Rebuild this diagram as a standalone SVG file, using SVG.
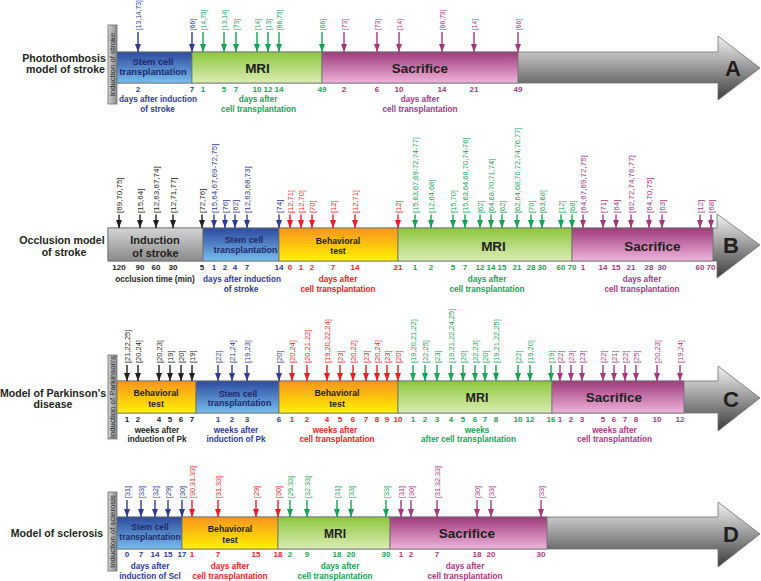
<svg xmlns="http://www.w3.org/2000/svg" width="761" height="581" viewBox="0 0 761 581">
<defs>
<style>
text{font-family:"Liberation Sans",Arial,Helvetica,sans-serif}
.t{font-weight:bold;text-anchor:middle;fill:#231f20}
.st{font-weight:bold;text-anchor:middle;fill:#1f2a6e}
.num{font-size:8px;font-weight:bold;text-anchor:middle}
.sub{font-size:8.2px;font-weight:bold;text-anchor:middle}
.ttl{font-size:10.6px;font-weight:bold;text-anchor:middle;fill:#231f20}
.let{font-size:22px;font-weight:bold;text-anchor:middle;fill:#231f20}
.vt{font-size:7.8px;text-anchor:middle;fill:#2b2b2b}
.k{fill:#231f20}.b{fill:#2e3a93}.r{fill:#ed1c24}.g{fill:#17a255}.p{fill:#a4387f}
.bar{stroke:#6d6e71;stroke-width:0.8}
.ak line,.ab line,.ar line,.ag line,.ap line{stroke-width:1.4;fill:none}
.ak line{stroke:#231f20;marker-end:url(#mk)}
.ab line{stroke:#2e3a93;marker-end:url(#mb)}
.ar line{stroke:#ed1c24;marker-end:url(#mr)}
.ag line{stroke:#17a255;marker-end:url(#mg)}
.ap line{stroke:#a4387f;marker-end:url(#mp)}
</style>
<linearGradient id="gArrow" x1="0" y1="0" x2="0" y2="1"><stop offset="0" stop-color="#f2f2f2"/><stop offset="1" stop-color="#3c3c3c"/></linearGradient>
<linearGradient id="gGray" x1="0" y1="0" x2="0" y2="1"><stop offset="0" stop-color="#d4d4d4"/><stop offset="1" stop-color="#8a8a8a"/></linearGradient>
<linearGradient id="gVert" x1="0" y1="0" x2="1" y2="0"><stop offset="0" stop-color="#d0d0d0"/><stop offset="1" stop-color="#8c8c8c"/></linearGradient>
<linearGradient id="gBlue" x1="0" y1="0" x2="0" y2="1"><stop offset="0" stop-color="#2d4a9e"/><stop offset="1" stop-color="#78bdee"/></linearGradient>
<linearGradient id="gGreen" x1="0" y1="0" x2="0" y2="1"><stop offset="0" stop-color="#8dc63f"/><stop offset="1" stop-color="#dbedb3"/></linearGradient>
<linearGradient id="gOrange" x1="0" y1="0" x2="0" y2="1"><stop offset="0" stop-color="#f7941d"/><stop offset="1" stop-color="#fff200"/></linearGradient>
<linearGradient id="gPink" x1="0" y1="0" x2="0" y2="1"><stop offset="0" stop-color="#9e3b7b"/><stop offset="1" stop-color="#efb3da"/></linearGradient>
<marker id="mk" markerUnits="userSpaceOnUse" markerWidth="8" markerHeight="6" refX="8" refY="3" orient="auto"><path d="M0,0 L8,3 L0,6 Z" fill="#231f20"/></marker>
<marker id="mb" markerUnits="userSpaceOnUse" markerWidth="8" markerHeight="6" refX="8" refY="3" orient="auto"><path d="M0,0 L8,3 L0,6 Z" fill="#2e3a93"/></marker>
<marker id="mr" markerUnits="userSpaceOnUse" markerWidth="8" markerHeight="6" refX="8" refY="3" orient="auto"><path d="M0,0 L8,3 L0,6 Z" fill="#ed1c24"/></marker>
<marker id="mg" markerUnits="userSpaceOnUse" markerWidth="8" markerHeight="6" refX="8" refY="3" orient="auto"><path d="M0,0 L8,3 L0,6 Z" fill="#17a255"/></marker>
<marker id="mp" markerUnits="userSpaceOnUse" markerWidth="8" markerHeight="6" refX="8" refY="3" orient="auto"><path d="M0,0 L8,3 L0,6 Z" fill="#a4387f"/></marker>
</defs>
<rect width="761" height="581" fill="#ffffff"/>

<!-- ROW A -->
<g id="rowA">
<text class="ttl" x="64" y="61.5">Photothombosis</text>
<text class="ttl" x="65.5" y="73">model of stroke</text>
<g id="A-arrow"><path class="bar" d="M117,52 H718 V36 L760,68 L718,100 V83 H117 Z" fill="url(#gArrow)"/><text class="let" x="733" y="76">A</text></g>
<g id="A-induction"><rect class="bar" x="108" y="25" width="9" height="79" fill="url(#gVert)"/><text class="vt" transform="translate(115.3,64.5) rotate(-90)">Induction of stroke</text></g>
<g id="A-stem"><rect class="bar" x="117" y="52" width="75" height="31" fill="url(#gBlue)"/><text class="st" x="153" y="65" font-size="9.3">Stem cell</text><text class="st" x="153" y="74.5" font-size="9.3">transplantation</text></g>
<g id="A-mri"><rect class="bar" x="192" y="52" width="130" height="31" fill="url(#gGreen)"/><text class="t" x="257.5" y="73" font-size="13.5">MRI</text></g>
<g id="A-sacrifice"><rect class="bar" x="322" y="52" width="196" height="31" fill="url(#gPink)"/><text class="t" x="420" y="73" font-size="13.5">Sacrifice</text></g>
</g>

<!-- ROW B -->
<g id="rowB">
<text class="ttl" x="62" y="243.5" font-size="10.8">Occlusion model</text>
<text class="ttl" x="64" y="255.5" font-size="10.8">of stroke</text>
<g id="B-arrow"><path class="bar" d="M108,228 H717 V214 L760,245 L717,278 V261 H108 Z" fill="url(#gArrow)"/><text class="let" x="731" y="253">B</text></g>
<g id="B-induction"><rect class="bar" x="108" y="228" width="95" height="33" fill="url(#gGray)"/><text class="t" x="155" y="243.5" font-size="11">Induction</text><text class="t" x="155.5" y="256.5" font-size="11">of stroke</text></g>
<g id="B-stem"><rect class="bar" x="203" y="228" width="76" height="33" fill="url(#gBlue)"/><text class="st" x="244" y="243" font-size="8.8">Stem cell</text><text class="st" x="245.5" y="252.5" font-size="8.8">transplantation</text></g>
<g id="B-behavioral"><rect class="bar" x="279" y="228" width="119" height="33" fill="url(#gOrange)"/><text class="t" x="338" y="243.5" font-size="8.7">Behavioral</text><text class="t" x="338" y="254" font-size="8.7">test</text></g>
<g id="B-mri"><rect class="bar" x="398" y="228" width="174" height="33" fill="url(#gGreen)"/><text class="t" x="493.5" y="250.5" font-size="13.5">MRI</text></g>
<g id="B-sacrifice"><rect class="bar" x="572" y="228" width="141" height="33" fill="url(#gPink)"/><text class="t" x="652.5" y="251" font-size="13.5">Sacrifice</text></g>
</g>

<!-- ROW C -->
<g id="rowC">
<text class="ttl" x="53" y="397">Model of Parkinson's</text>
<text class="ttl" x="53" y="407.5">disease</text>
<g id="C-arrow"><path class="bar" d="M117,381 H718 V366 L760,398 L718,431 V413 H117 Z" fill="url(#gArrow)"/><text class="let" x="731" y="407">C</text></g>
<g id="C-induction"><rect class="bar" x="108" y="355" width="9" height="84" fill="url(#gVert)"/><text class="vt" transform="translate(115.3,397) rotate(-90)">Induction of Parkinson's</text></g>
<g id="C-behavioral1"><rect class="bar" x="117" y="381" width="79" height="32" fill="url(#gOrange)"/><text class="t" x="156" y="396" font-size="8.8">Behavioral</text><text class="t" x="156" y="406.5" font-size="8.8">test</text></g>
<g id="C-stem"><rect class="bar" x="196" y="381" width="83" height="32" fill="url(#gBlue)"/><text class="st" x="238" y="396.5" font-size="8.8">Stem cell</text><text class="st" x="239.5" y="406" font-size="8.8">transplantation</text></g>
<g id="C-behavioral2"><rect class="bar" x="279" y="381" width="119" height="32" fill="url(#gOrange)"/><text class="t" x="337" y="396" font-size="8.8">Behavioral</text><text class="t" x="337" y="406.5" font-size="8.8">test</text></g>
<g id="C-mri"><rect class="bar" x="398" y="381" width="154" height="32" fill="url(#gGreen)"/><text class="t" x="477" y="402" font-size="12.5">MRI</text></g>
<g id="C-sacrifice"><rect class="bar" x="552" y="381" width="132" height="32" fill="url(#gPink)"/><text class="t" x="614" y="402" font-size="13.5">Sacrifice</text></g>
</g>

<!-- ROW D -->
<g id="rowD">
<text class="ttl" x="57" y="537">Model of sclerosis</text>
<g id="D-arrow"><path class="bar" d="M117,517 H718 V502 L760,534 L718,567 V549 H117 Z" fill="url(#gArrow)"/><text class="let" x="731" y="542">D</text></g>
<g id="D-induction"><rect class="bar" x="108" y="492" width="9" height="79" fill="url(#gVert)"/><text class="vt" transform="translate(115.3,531.5) rotate(-90)">Induction of sclerosis</text></g>
<g id="D-stem"><rect class="bar" x="117" y="517" width="65" height="32" fill="url(#gBlue)"/><text class="st" x="150" y="530" font-size="8.5">Stem cell</text><text class="st" x="150" y="540" font-size="8.5">transplantation</text></g>
<g id="D-behavioral"><rect class="bar" x="182" y="517" width="96" height="32" fill="url(#gOrange)"/><text class="t" x="230" y="531.5" font-size="8.7">Behavioral</text><text class="t" x="230" y="542.5" font-size="8.7">test</text></g>
<g id="D-mri"><rect class="bar" x="278" y="517" width="112" height="32" fill="url(#gGreen)"/><text class="t" x="335" y="538" font-size="12">MRI</text></g>
<g id="D-sacrifice"><rect class="bar" x="390" y="517" width="157" height="32" fill="url(#gPink)"/><text class="t" x="467" y="538" font-size="13.5">Sacrifice</text></g>
</g>

<!-- CONNECTORS -->
<g id="connectors">
<g class="ab"><line x1="138" y1="32" x2="138" y2="52"/><line x1="192" y1="32" x2="192" y2="52"/></g>
<g class="ag"><line x1="203" y1="32" x2="203" y2="52"/><line x1="224" y1="32" x2="224" y2="52"/><line x1="236" y1="32" x2="236" y2="52"/><line x1="257" y1="32" x2="257" y2="52"/><line x1="268" y1="32" x2="268" y2="52"/><line x1="279" y1="32" x2="279" y2="52"/><line x1="322" y1="32" x2="322" y2="52"/></g>
<g class="ap"><line x1="344" y1="32" x2="344" y2="52"/><line x1="377" y1="32" x2="377" y2="52"/><line x1="399" y1="32" x2="399" y2="52"/><line x1="442" y1="32" x2="442" y2="52"/><line x1="474" y1="32" x2="474" y2="52"/><line x1="518" y1="32" x2="518" y2="52"/></g>

<g class="ak"><line x1="119" y1="214.5" x2="119" y2="228"/><line x1="140" y1="214.5" x2="140" y2="228"/><line x1="156" y1="214.5" x2="156" y2="228"/><line x1="173" y1="214.5" x2="173" y2="228"/><line x1="202" y1="214.5" x2="202" y2="228"/></g>
<g class="ab"><line x1="214" y1="214.5" x2="214" y2="228"/><line x1="225" y1="214.5" x2="225" y2="228"/><line x1="235" y1="214.5" x2="235" y2="228"/><line x1="247" y1="214.5" x2="247" y2="228"/><line x1="279" y1="214.5" x2="279" y2="228"/></g>
<g class="ar"><line x1="290" y1="214.5" x2="290" y2="228"/><line x1="301" y1="214.5" x2="301" y2="228"/><line x1="312" y1="214.5" x2="312" y2="228"/><line x1="333" y1="214.5" x2="333" y2="228"/><line x1="355" y1="214.5" x2="355" y2="228"/><line x1="398" y1="214.5" x2="398" y2="228"/></g>
<g class="ag"><line x1="415" y1="214.5" x2="415" y2="228"/><line x1="431" y1="214.5" x2="431" y2="228"/><line x1="453" y1="214.5" x2="453" y2="228"/><line x1="465" y1="214.5" x2="465" y2="228"/><line x1="480" y1="214.5" x2="480" y2="228"/><line x1="491" y1="214.5" x2="491" y2="228"/><line x1="502" y1="214.5" x2="502" y2="228"/><line x1="517" y1="214.5" x2="517" y2="228"/><line x1="531" y1="214.5" x2="531" y2="228"/><line x1="542" y1="214.5" x2="542" y2="228"/><line x1="561" y1="214.5" x2="561" y2="228"/><line x1="572" y1="214.5" x2="572" y2="228"/></g>
<g class="ap"><line x1="583" y1="214.5" x2="583" y2="228"/><line x1="603" y1="214.5" x2="603" y2="228"/><line x1="616" y1="214.5" x2="616" y2="228"/><line x1="631" y1="214.5" x2="631" y2="228"/><line x1="649" y1="214.5" x2="649" y2="228"/><line x1="662" y1="214.5" x2="662" y2="228"/><line x1="700" y1="214.5" x2="700" y2="228"/><line x1="711" y1="214.5" x2="711" y2="228"/></g>

<g class="ak"><line x1="127" y1="365" x2="127" y2="381"/><line x1="138" y1="365" x2="138" y2="381"/><line x1="159" y1="365" x2="159" y2="381"/><line x1="170" y1="365" x2="170" y2="381"/><line x1="181" y1="365" x2="181" y2="381"/><line x1="192" y1="365" x2="192" y2="381"/></g>
<g class="ab"><line x1="218" y1="365" x2="218" y2="381"/><line x1="232" y1="365" x2="232" y2="381"/><line x1="247" y1="365" x2="247" y2="381"/><line x1="279" y1="365" x2="279" y2="381"/></g>
<g class="ar"><line x1="292" y1="365" x2="292" y2="381"/><line x1="307" y1="365" x2="307" y2="381"/><line x1="327" y1="365" x2="327" y2="381"/><line x1="340" y1="365" x2="340" y2="381"/><line x1="353" y1="365" x2="353" y2="381"/><line x1="366" y1="365" x2="366" y2="381"/><line x1="377" y1="365" x2="377" y2="381"/><line x1="387" y1="365" x2="387" y2="381"/><line x1="398" y1="365" x2="398" y2="381"/></g>
<g class="ag"><line x1="413" y1="365" x2="413" y2="381"/><line x1="425" y1="365" x2="425" y2="381"/><line x1="437" y1="365" x2="437" y2="381"/><line x1="451" y1="365" x2="451" y2="381"/><line x1="463" y1="365" x2="463" y2="381"/><line x1="475" y1="365" x2="475" y2="381"/><line x1="485" y1="365" x2="485" y2="381"/><line x1="496" y1="365" x2="496" y2="381"/><line x1="518" y1="365" x2="518" y2="381"/><line x1="530" y1="365" x2="530" y2="381"/><line x1="551" y1="365" x2="551" y2="381"/></g>
<g class="ap"><line x1="560" y1="365" x2="560" y2="381"/><line x1="571" y1="365" x2="571" y2="381"/><line x1="582" y1="365" x2="582" y2="381"/><line x1="603" y1="365" x2="603" y2="381"/><line x1="614" y1="365" x2="614" y2="381"/><line x1="625" y1="365" x2="625" y2="381"/><line x1="636" y1="365" x2="636" y2="381"/><line x1="657" y1="365" x2="657" y2="381"/><line x1="680" y1="365" x2="680" y2="381"/></g>

<g class="ab"><line x1="127" y1="500" x2="127" y2="517"/><line x1="141" y1="500" x2="141" y2="517"/><line x1="155" y1="500" x2="155" y2="517"/><line x1="168" y1="500" x2="168" y2="517"/><line x1="182" y1="500" x2="182" y2="517"/></g>
<g class="ar"><line x1="192" y1="500" x2="192" y2="517"/><line x1="218" y1="500" x2="218" y2="517"/><line x1="256" y1="500" x2="256" y2="517"/><line x1="278" y1="500" x2="278" y2="517"/></g>
<g class="ag"><line x1="290" y1="500" x2="290" y2="517"/><line x1="307" y1="500" x2="307" y2="517"/><line x1="337" y1="500" x2="337" y2="517"/><line x1="351" y1="500" x2="351" y2="517"/><line x1="386" y1="500" x2="386" y2="517"/></g>
<g class="ap"><line x1="401" y1="500" x2="401" y2="517"/><line x1="411" y1="500" x2="411" y2="517"/><line x1="437" y1="500" x2="437" y2="517"/><line x1="477" y1="500" x2="477" y2="517"/><line x1="491" y1="500" x2="491" y2="517"/><line x1="541" y1="500" x2="541" y2="517"/></g>
</g>

<!-- REFERENCE LABELS -->
<g id="refs">
<g font-size="6.7">
<g class="b"><text transform="translate(140.6,30) rotate(-90)">[13,14,73]</text><text transform="translate(194.6,30) rotate(-90)">[66]</text></g>
<g class="g"><text transform="translate(205.6,30) rotate(-90)">[14,73]</text><text transform="translate(226.6,30) rotate(-90)">[13,14]</text><text transform="translate(238.6,30) rotate(-90)">[73]</text><text transform="translate(259.6,30) rotate(-90)">[14]</text><text transform="translate(270.6,30) rotate(-90)">[13]</text><text transform="translate(281.6,30) rotate(-90)">[66,73]</text><text transform="translate(324.6,30) rotate(-90)">[66]</text></g>
<g class="p"><text transform="translate(346.6,30) rotate(-90)">[73]</text><text transform="translate(379.6,30) rotate(-90)">[73]</text><text transform="translate(401.6,30) rotate(-90)">[14]</text><text transform="translate(444.6,30) rotate(-90)">[66,73]</text><text transform="translate(476.6,30) rotate(-90)">[14]</text><text transform="translate(520.6,30) rotate(-90)">[66]</text></g>
</g>
<g font-size="8">
<g class="k"><text transform="translate(121.9,213) rotate(-90)">[69,70,75]</text><text transform="translate(142.9,213) rotate(-90)">[15,64]</text><text transform="translate(158.9,213) rotate(-90)">[12,63,67,74]</text><text transform="translate(175.9,213) rotate(-90)">[12,71,77]</text><text transform="translate(204.9,213) rotate(-90)">[72,76]</text></g>
<g class="b"><text transform="translate(216.9,213) rotate(-90)">[15,64,67,69-72,75]</text><text transform="translate(227.9,213) rotate(-90)">[76]</text><text transform="translate(237.9,213) rotate(-90)">[62]</text><text transform="translate(249.9,213) rotate(-90)">[12,63,68,73]</text><text transform="translate(281.9,213) rotate(-90)">[74]</text></g>
<g class="r" font-size="7.5"><text transform="translate(292.7,213) rotate(-90)">[12,71]</text><text transform="translate(303.7,213) rotate(-90)">[12,70]</text><text transform="translate(314.7,213) rotate(-90)">[70]</text><text transform="translate(335.7,213) rotate(-90)">[12]</text><text transform="translate(357.7,213) rotate(-90)">[12,71]</text><text transform="translate(400.7,213) rotate(-90)">[12]</text></g>
<g class="g" font-size="7.5"><text transform="translate(417.7,213) rotate(-90)">[15,63,67,69-72,74-77]</text><text transform="translate(433.7,213) rotate(-90)">[12,64,68]</text><text transform="translate(455.7,213) rotate(-90)">[15,70]</text><text transform="translate(467.7,213) rotate(-90)">[15,63,64,68,70,74-76]</text><text transform="translate(482.7,213) rotate(-90)">[62]</text><text transform="translate(493.7,213) rotate(-90)">[64,68,70,71,74]</text><text transform="translate(504.7,213) rotate(-90)">[62]</text><text transform="translate(519.7,213) rotate(-90)">[62,64,68,70,72,74,76,77]</text><text transform="translate(533.7,213) rotate(-90)">[70]</text><text transform="translate(544.7,213) rotate(-90)">[63,68]</text><text transform="translate(563.7,213) rotate(-90)">[12]</text><text transform="translate(574.7,213) rotate(-90)">[68]</text></g>
<g class="p"><text transform="translate(585.9,213) rotate(-90)">[64,67,69,72,75]</text><text transform="translate(605.9,213) rotate(-90)">[71]</text><text transform="translate(618.9,213) rotate(-90)">[64]</text><text transform="translate(633.9,213) rotate(-90)">[62,72,74,76,77]</text><text transform="translate(651.9,213) rotate(-90)">[64,70,75]</text><text transform="translate(664.9,213) rotate(-90)">[63]</text><text transform="translate(702.9,213) rotate(-90)">[12]</text><text transform="translate(713.9,213) rotate(-90)">[68]</text></g>
</g>
<g font-size="7.5">
<g class="k"><text transform="translate(129.7,363) rotate(-90)">[21,22,25]</text><text transform="translate(140.7,363) rotate(-90)">[20,24]</text><text transform="translate(161.7,363) rotate(-90)">[20,23]</text><text transform="translate(172.7,363) rotate(-90)">[19]</text><text transform="translate(183.7,363) rotate(-90)">[20]</text><text transform="translate(194.7,363) rotate(-90)">[19]</text></g>
<g class="b"><text transform="translate(220.7,363) rotate(-90)">[22]</text><text transform="translate(234.7,363) rotate(-90)">[21,24]</text><text transform="translate(249.7,363) rotate(-90)">[19,23]</text><text transform="translate(281.7,363) rotate(-90)">[20]</text></g>
<g class="r"><text transform="translate(294.7,363) rotate(-90)">[20,24]</text><text transform="translate(309.7,363) rotate(-90)">[20,21,22]</text><text transform="translate(329.7,363) rotate(-90)">[19,20,22,24]</text><text transform="translate(342.7,363) rotate(-90)">[23]</text><text transform="translate(355.7,363) rotate(-90)">[20,22]</text><text transform="translate(368.7,363) rotate(-90)">[23]</text><text transform="translate(379.7,363) rotate(-90)">[20,24]</text><text transform="translate(389.7,363) rotate(-90)">[23]</text><text transform="translate(400.7,363) rotate(-90)">[20]</text></g>
<g class="g"><text transform="translate(415.7,363) rotate(-90)">[19,20,21,22]</text><text transform="translate(427.7,363) rotate(-90)">[22,25]</text><text transform="translate(439.7,363) rotate(-90)">[23]</text><text transform="translate(453.7,363) rotate(-90)">[19,21,22,24,25]</text><text transform="translate(465.7,363) rotate(-90)">[20]</text><text transform="translate(477.7,363) rotate(-90)">[22,23]</text><text transform="translate(487.7,363) rotate(-90)">[20]</text><text transform="translate(498.7,363) rotate(-90)">[19,21,22,25]</text><text transform="translate(520.7,363) rotate(-90)">[22]</text><text transform="translate(532.7,363) rotate(-90)">[19,20]</text><text transform="translate(553.7,363) rotate(-90)">[19]</text></g>
<g class="p"><text transform="translate(562.7,363) rotate(-90)">[22]</text><text transform="translate(573.7,363) rotate(-90)">[23]</text><text transform="translate(584.7,363) rotate(-90)">[23]</text><text transform="translate(605.7,363) rotate(-90)">[22]</text><text transform="translate(616.7,363) rotate(-90)">[21]</text><text transform="translate(627.7,363) rotate(-90)">[22]</text><text transform="translate(638.7,363) rotate(-90)">[25]</text><text transform="translate(659.7,363) rotate(-90)">[20,23]</text><text transform="translate(682.7,363) rotate(-90)">[19,24]</text></g>
</g>
<g font-size="7.2">
<g class="b"><text transform="translate(129.6,498) rotate(-90)">[31]</text><text transform="translate(143.6,498) rotate(-90)">[33]</text><text transform="translate(157.6,498) rotate(-90)">[32]</text><text transform="translate(170.6,498) rotate(-90)">[29]</text><text transform="translate(184.6,498) rotate(-90)">[30]</text></g>
<g class="r"><text transform="translate(194.6,498) rotate(-90)">[30,31,33]</text><text transform="translate(220.6,498) rotate(-90)">[31,33]</text><text transform="translate(258.6,498) rotate(-90)">[29]</text><text transform="translate(280.6,498) rotate(-90)">[30]</text></g>
<g class="g"><text transform="translate(292.6,498) rotate(-90)">[29,33]</text><text transform="translate(309.6,498) rotate(-90)">[32,33]</text><text transform="translate(339.6,498) rotate(-90)">[31]</text><text transform="translate(353.6,498) rotate(-90)">[33]</text><text transform="translate(388.6,498) rotate(-90)">[33]</text></g>
<g class="p"><text transform="translate(403.6,498) rotate(-90)">[31]</text><text transform="translate(413.6,498) rotate(-90)">[30]</text><text transform="translate(439.6,498) rotate(-90)">[31,32,33]</text><text transform="translate(479.6,498) rotate(-90)">[30]</text><text transform="translate(493.6,498) rotate(-90)">[33]</text><text transform="translate(543.6,498) rotate(-90)">[33]</text></g>
</g>
</g>

<!-- TIME NUMBERS -->
<g id="numbers">
<g class="num b"><text x="138" y="92">2</text><text x="192" y="92">7</text></g>
<g class="num g"><text x="203" y="92">1</text><text x="224" y="92">5</text><text x="236" y="92">7</text><text x="257" y="92">10</text><text x="268" y="92">12</text><text x="279" y="92">14</text><text x="322" y="92">49</text></g>
<g class="num p"><text x="344" y="92">2</text><text x="377" y="92">6</text><text x="399" y="92">10</text><text x="442" y="92">14</text><text x="474" y="92">21</text><text x="518" y="92">49</text></g>

<g class="num k"><text x="119" y="269.5">120</text><text x="140" y="269.5">90</text><text x="156" y="269.5">60</text><text x="173" y="269.5">30</text><text x="202" y="269.5">5</text></g>
<g class="num b"><text x="214" y="269.5">1</text><text x="225" y="269.5">2</text><text x="235" y="269.5">4</text><text x="247" y="269.5">7</text><text x="279" y="269.5">14</text></g>
<g class="num r"><text x="290" y="269.5">0</text><text x="301" y="269.5">1</text><text x="312" y="269.5">2</text><text x="333" y="269.5">7</text><text x="355" y="269.5">14</text><text x="398" y="269.5">21</text></g>
<g class="num g"><text x="415" y="269.5">1</text><text x="431" y="269.5">2</text><text x="453" y="269.5">5</text><text x="465" y="269.5">7</text><text x="480" y="269.5">12</text><text x="491" y="269.5">14</text><text x="502" y="269.5">15</text><text x="517" y="269.5">21</text><text x="531" y="269.5">28</text><text x="542" y="269.5">30</text><text x="561" y="269.5">60</text><text x="572" y="269.5">70</text></g>
<g class="num p"><text x="583" y="269.5">1</text><text x="603" y="269.5">14</text><text x="616" y="269.5">15</text><text x="631" y="269.5">21</text><text x="649" y="269.5">28</text><text x="662" y="269.5">30</text><text x="700" y="269.5">60</text><text x="711" y="269.5">70</text></g>

<g class="num k"><text x="127" y="422">1</text><text x="138" y="422">2</text><text x="159" y="422">4</text><text x="170" y="422">5</text><text x="181" y="422">6</text><text x="192" y="422">7</text></g>
<g class="num b"><text x="218" y="422">1</text><text x="232" y="422">2</text><text x="247" y="422">3</text><text x="279" y="422">6</text></g>
<g class="num r"><text x="292" y="422">1</text><text x="307" y="422">2</text><text x="327" y="422">4</text><text x="340" y="422">5</text><text x="353" y="422">6</text><text x="366" y="422">7</text><text x="377" y="422">8</text><text x="387" y="422">9</text><text x="398" y="422">10</text></g>
<g class="num g"><text x="413" y="422">1</text><text x="425" y="422">2</text><text x="437" y="422">3</text><text x="451" y="422">4</text><text x="463" y="422">5</text><text x="475" y="422">6</text><text x="485" y="422">7</text><text x="496" y="422">8</text><text x="518" y="422">10</text><text x="530" y="422">12</text><text x="551" y="422">16</text></g>
<g class="num p"><text x="560" y="422">1</text><text x="571" y="422">2</text><text x="582" y="422">3</text><text x="603" y="422">5</text><text x="614" y="422">6</text><text x="625" y="422">7</text><text x="636" y="422">8</text><text x="657" y="422">10</text><text x="680" y="422">12</text></g>

<g class="num b"><text x="127" y="557">0</text><text x="141" y="557">7</text><text x="155" y="557">14</text><text x="168" y="557">15</text><text x="182" y="557">17</text></g>
<g class="num r"><text x="192" y="557">1</text><text x="218" y="557">7</text><text x="256" y="557">15</text><text x="278" y="557">18</text></g>
<g class="num g"><text x="290" y="557">2</text><text x="307" y="557">9</text><text x="337" y="557">18</text><text x="351" y="557">20</text><text x="386" y="557">30</text></g>
<g class="num p"><text x="401" y="557">1</text><text x="411" y="557">2</text><text x="437" y="557">7</text><text x="477" y="557">18</text><text x="491" y="557">20</text><text x="541" y="557">30</text></g>
</g>

<!-- AXIS CAPTIONS -->
<g id="captions">
<g class="sub b"><text x="158" y="102">days after induction</text><text x="157.5" y="111.5">of stroke</text></g>
<g class="sub g"><text x="258" y="102">days after</text><text x="258.5" y="111.5">cell transplantation</text></g>
<g class="sub p"><text x="420" y="102">days after</text><text x="420" y="111.5">cell transplantation</text></g>

<g class="sub k"><text x="155" y="281.5">occlusion time (min)</text></g>
<g class="sub b"><text x="242" y="281.5">days after induction</text><text x="241" y="291.5">of stroke</text></g>
<g class="sub r"><text x="338" y="281.5">days after</text><text x="338" y="291.5">cell transplantation</text></g>
<g class="sub g"><text x="487" y="281.5">days after</text><text x="487" y="291.5">cell transplantation</text></g>
<g class="sub p"><text x="642" y="281.5">days after</text><text x="642" y="291.5">cell transplantation</text></g>

<g class="sub k"><text x="157" y="432.5">weeks after</text><text x="157" y="442">induction of Pk</text></g>
<g class="sub b"><text x="236" y="432.5">weeks after</text><text x="236" y="442">induction of Pk</text></g>
<g class="sub r"><text x="335" y="432.5">weeks after</text><text x="337" y="442">cell transplantation</text></g>
<g class="sub g"><text x="477" y="432.5">weeks</text><text x="468.5" y="442">after cell transplantation</text></g>
<g class="sub p"><text x="614.5" y="432.5">weeks after</text><text x="614.5" y="442">cell transplantation</text></g>

<g class="sub b"><text x="150" y="569">days after</text><text x="150" y="578.5">induction of Scl</text></g>
<g class="sub r"><text x="230" y="569">days after</text><text x="230" y="578.5">cell transplantation</text></g>
<g class="sub g"><text x="340" y="569">days after</text><text x="335" y="578.5">cell transplantation</text></g>
<g class="sub p"><text x="465" y="569">days after</text><text x="465" y="578.5">cell transplantation</text></g>
</g>
</svg>
